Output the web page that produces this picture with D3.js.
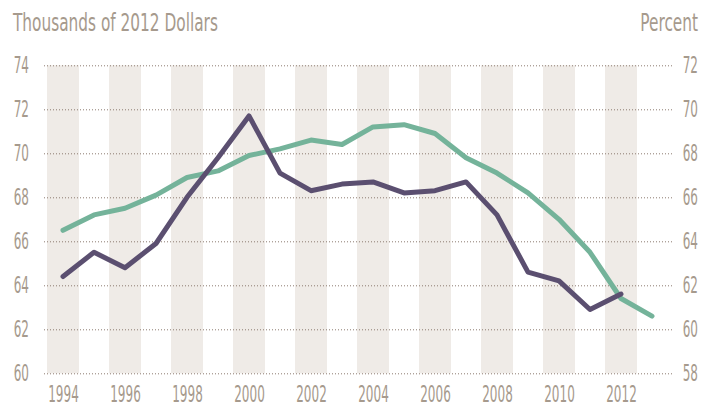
<!DOCTYPE html>
<html lang="en">
<head>
    <meta charset="UTF-8">
    <title>Income and Percent, 1994-2013</title>
    <script src="https://d3js.org/d3.v7.min.js"></script>
    <style>
        body { margin: 0; background: #fff; }
        svg { display: block; }
        text {
            font-family: "Liberation Sans Narrow", "DejaVu Sans Condensed", sans-serif;
            fill: #a69a8d;
        }
    </style>
</head>
<body>
    <svg id="chart" width="714" height="406"></svg>

    <script>
        // Years and the two series
        const years = d3.range(1994, 2014);
        // thousands of 2012 dollars, left axis (ends 2012)
        const dollars = [64.4, 65.5, 64.8, 65.9, 68.0, 69.8, 71.7, 69.1, 68.3, 68.6,
                         68.7, 68.2, 68.3, 68.7, 67.2, 64.6, 64.2, 62.9, 63.6];
        // percent, right axis (ends 2013)
        const percent = [64.5, 65.2, 65.5, 66.1, 66.9, 67.2, 67.9, 68.2, 68.6, 68.4,
                         69.2, 69.3, 68.9, 67.8, 67.1, 66.2, 65.0, 63.5, 61.4, 60.6];
        const leftTicks = [60, 62, 64, 66, 68, 70, 72, 74];
        const rightTicks = [58, 60, 62, 64, 66, 68, 70, 72];
        const bandYears = [1994, 1996, 1998, 2000, 2002, 2004, 2006, 2008, 2010, 2012];

        const svg = d3.select("#chart");

        const x = d3.scaleLinear().domain([1994, 2013]).range([63, 652]);
        const yLeft = d3.scaleLinear().domain([60, 74]).range([373.3, 65.3]);
        const yRight = d3.scaleLinear().domain([58, 72]).range([373.3, 65.3]);
        const bandW = 32;

        // measure a string so the font can be squeezed to look condensed
        function natWidth(str, size) {
            const t = svg.append("text").attr("font-size", size).text(str);
            const w = t.node().getComputedTextLength();
            t.remove();
            return w;
        }
        const tickSize = 22.5;
        const titleSize = 25;
        const tickSqueeze = 30.6 / natWidth("1994", tickSize);
        const titleSqueeze = 205 / natWidth("Thousands of 2012 Dollars", titleSize);

        // shaded bands behind even years
        svg.append("g")
            .selectAll("rect")
            .data(bandYears)
            .join("rect")
            .attr("x", d => x(d) - bandW / 2)
            .attr("y", yLeft(74))
            .attr("width", bandW)
            .attr("height", yLeft(60) - yLeft(74))
            .attr("fill", "#efebe7");

        // dotted gridlines
        const grid = svg.append("g")
            .attr("transform", "translate(44,0)")
            .call(d3.axisRight(yLeft).tickValues(leftTicks).tickSize(628).tickFormat(""));
        grid.select(".domain").remove();
        grid.selectAll("line")
            .attr("stroke", "#8c7b70")
            .attr("stroke-width", 1)
            .attr("stroke-dasharray", "1,2");

        // left labels
        const gl = svg.append("g")
            .attr("transform", "translate(29,0)")
            .call(d3.axisLeft(yLeft).tickValues(leftTicks).tickSize(0).tickPadding(0));
        // right labels, right aligned at the edge
        const gr = svg.append("g")
            .attr("transform", "translate(698,0)")
            .call(d3.axisLeft(yRight).tickValues(rightTicks).tickSize(0).tickPadding(0));
        // year labels
        const gx = svg.append("g")
            .attr("transform", "translate(0,386)")
            .call(d3.axisBottom(x).tickValues(bandYears).tickFormat(d3.format("d")).tickSize(0).tickPadding(0));

        [gl, gr, gx].forEach(g => {
            g.select(".domain").remove();
            g.selectAll("text")
                .attr("font-size", tickSize)
                .attr("fill", "#a69a8d")
                .attr("transform", `scale(${tickSqueeze},1)`);
        });

        // lines
        const lineLeft = d3.line()
            .x((d, i) => x(years[i]))
            .y(d => yLeft(d));
        const lineRight = d3.line()
            .x((d, i) => x(years[i]))
            .y(d => yRight(d));

        svg.append("path")
            .datum(percent)
            .attr("d", lineRight)
            .attr("fill", "none")
            .attr("stroke", "#74b39a")
            .attr("stroke-width", 5)
            .attr("stroke-linejoin", "round")
            .attr("stroke-linecap", "round");

        svg.append("path")
            .datum(dollars)
            .attr("d", lineLeft)
            .attr("fill", "none")
            .attr("stroke", "#5b4f70")
            .attr("stroke-width", 5)
            .attr("stroke-linejoin", "round")
            .attr("stroke-linecap", "round");

        // axis titles
        svg.append("text")
            .attr("transform", `translate(13,31) scale(${titleSqueeze},1)`)
            .attr("font-size", titleSize)
            .text("Thousands of 2012 Dollars");

        svg.append("text")
            .attr("transform", `translate(698,31) scale(${titleSqueeze},1)`)
            .attr("text-anchor", "end")
            .attr("font-size", titleSize)
            .text("Percent");
    </script>
</body>
</html>
